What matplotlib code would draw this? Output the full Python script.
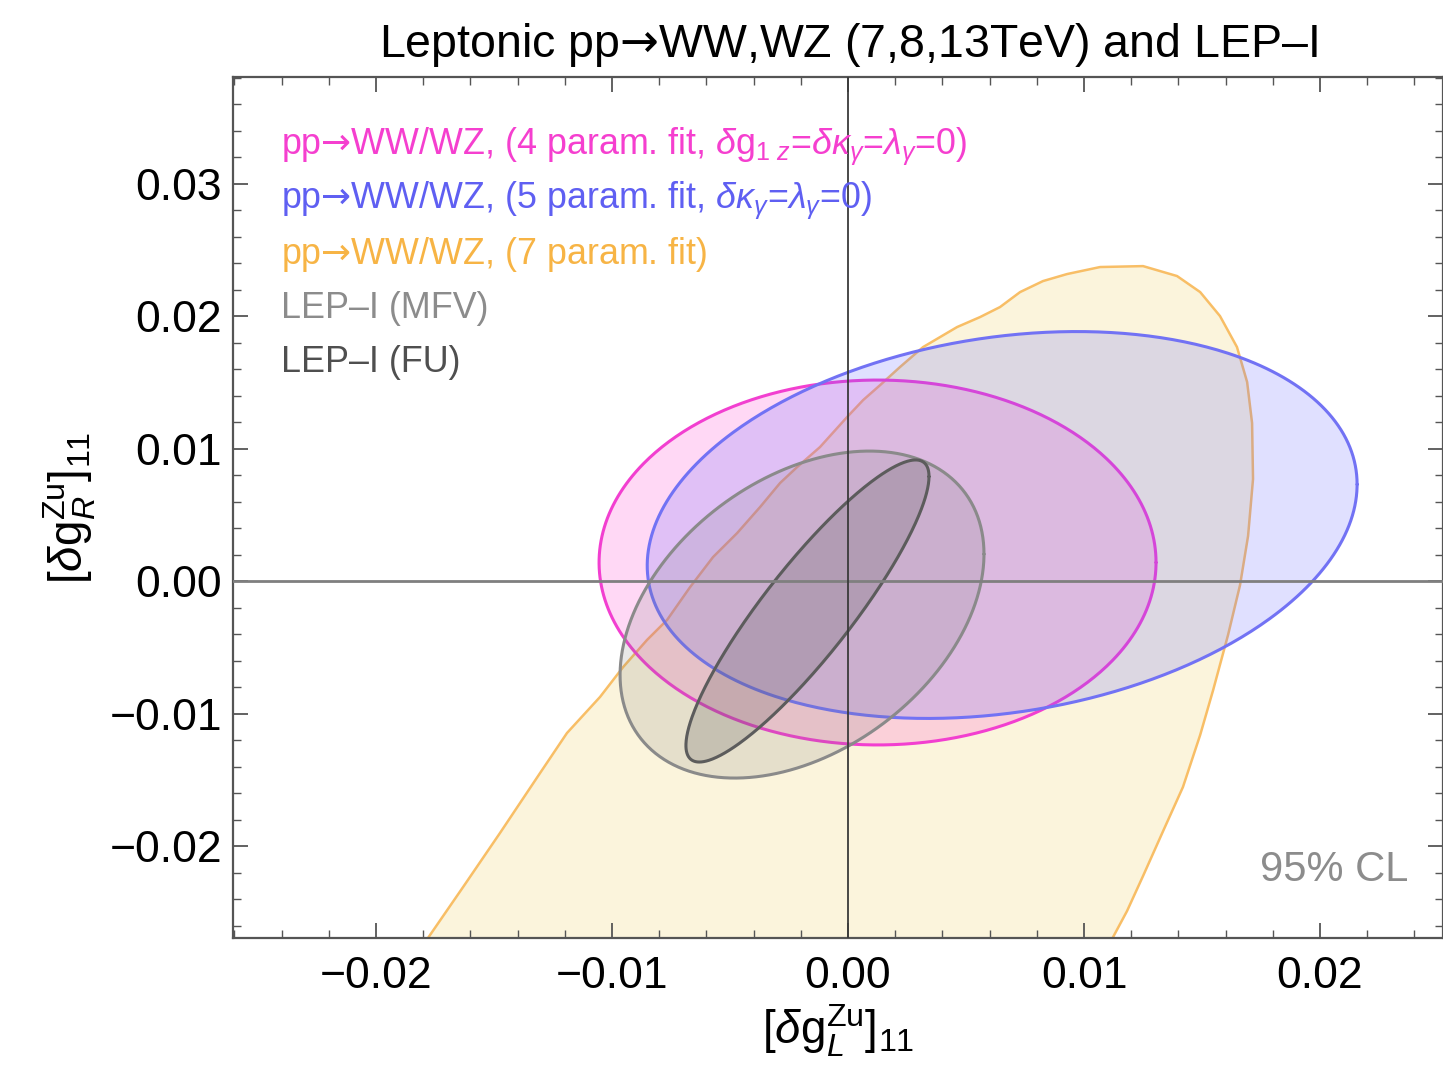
import numpy as np
import matplotlib
matplotlib.use("Agg")
import matplotlib.pyplot as plt
from matplotlib.ticker import MultipleLocator

plt.rcParams['font.family'] = ['Liberation Sans', 'DejaVu Sans']
plt.rcParams['mathtext.fontset'] = 'custom'
plt.rcParams['mathtext.rm'] = 'Liberation Sans'
plt.rcParams['mathtext.it'] = 'Liberation Sans:italic'
plt.rcParams['mathtext.bf'] = 'Liberation Sans:bold'
plt.rcParams['mathtext.sf'] = 'DejaVu Sans'

# 95% CL ellipses: centre, half-width (x), half-height (y), correlation
ellipse_names = ["4 param", "5 param", "LEP-I MFV", "LEP-I FU"]
ellipse_cx = [0.00125, 0.00653, -0.00195, -0.00172]
ellipse_cy = [0.00140, 0.00423, -0.00253, -0.00226]
ellipse_wx = [0.01180, 0.01504, 0.00771, 0.00515]
ellipse_wy = [0.01377, 0.01460, 0.01234, 0.01140]
ellipse_rho = [0.0, 0.21, 0.37, 0.89]

# 7 parameter fit contour (traced)
fit7_x = [-0.01903, -0.01780, -0.01631, -0.01475, -0.01305, -0.01191, -0.01051,
          -0.00953, -0.00852, -0.00767, -0.00669, -0.00572, -0.00470, -0.00373,
          -0.00288, -0.00216, -0.00119, -0.00004, 0.00064, 0.00136, 0.00220,
          0.00318, 0.00462, 0.00559, 0.00644, 0.00729, 0.00826, 0.00928,
          0.01068, 0.01250, 0.01394, 0.01492, 0.01576, 0.01648, 0.01691,
          0.01712, 0.01716, 0.01695, 0.01661, 0.01610, 0.01547, 0.01492,
          0.01419, 0.01335, 0.01250, 0.01182, 0.01123, 0.01025]
fit7_y = [-0.03011, -0.02694, -0.02309, -0.01902, -0.01449, -0.01147, -0.00875,
          -0.00649, -0.00445, -0.00294, -0.00045, 0.00181, 0.00362, 0.00558,
          0.00740, 0.00860, 0.01011, 0.01238, 0.01366, 0.01479, 0.01615,
          0.01766, 0.01917, 0.01992, 0.02068, 0.02181, 0.02264, 0.02317,
          0.02370, 0.02377, 0.02302, 0.02181, 0.02000, 0.01766, 0.01502,
          0.01192, 0.00770, 0.00340, -0.00030, -0.00408, -0.00823, -0.01162,
          -0.01555, -0.01887, -0.02226, -0.02491, -0.02687, -0.03011]

arrow = r"$\mathsf{→}$"
legend_labels = [
    "pp" + arrow + r"WW/WZ, (4 param. fit, $\delta$g$_{1\ z}$=$\delta\kappa_{\gamma}$=$\lambda_{\gamma}$=0)",
    "pp" + arrow + r"WW/WZ, (5 param. fit, $\delta\kappa_{\gamma}$=$\lambda_{\gamma}$=0)",
    "pp" + arrow + "WW/WZ, (7 param. fit)",
    "LEP–I (MFV)",
    "LEP–I (FU)",
]
legend_colors = ["#f53fcf", "#5f5ff2", "#f7b445", "#8c8c8c", "#4f4f4f"]
title = "Leptonic pp" + arrow + "WW,WZ (7,8,13TeV) and LEP–I"

fig = plt.figure(figsize=(14.43, 10.82), dpi=100)
ax = fig.add_axes([0.1615, 0.1331, 0.8385, 0.7957])

# orange 7-parameter region
ax.fill(fit7_x, fit7_y, facecolor="#eec850", alpha=0.2, edgecolor="none", zorder=1)
ax.plot(fit7_x, fit7_y, color="#f8be66", lw=1.8, zorder=1.1, solid_joinstyle="round")

face = ["#ff40d0", "#6464ff", "#7a7a7a", "#5a5a5a"]
edge = ["#f23fd0", "#7272f4", "#8a8a8a", "#5c5c5c"]
alph = [0.2, 0.2, 0.17, 0.22]
order = [1, 0, 2, 3]
t = np.linspace(0, 2 * np.pi, 500)
for i in order:
    ex = ellipse_cx[i] + ellipse_wx[i] * np.cos(t)
    ey = ellipse_cy[i] + ellipse_wy[i] * (ellipse_rho[i] * np.cos(t)
                                          + np.sqrt(1 - ellipse_rho[i] ** 2) * np.sin(t))
    ax.fill(ex, ey, facecolor=face[i], alpha=alph[i], edgecolor="none", zorder=2 + i)
    ax.plot(ex, ey, color=edge[i], lw=2.2, zorder=2.5 + i,
            solid_capstyle="round", solid_joinstyle="round")

ax.axhline(0, color="#7f7f7f", lw=2.0, zorder=10)
ax.axvline(0, color="#3a3a3a", lw=1.3, zorder=10)

ax.set_xlim(-0.02606, 0.02521)
ax.set_ylim(-0.02694, 0.03804)

ax.xaxis.set_major_locator(MultipleLocator(0.01))
ax.xaxis.set_minor_locator(MultipleLocator(0.002))
ax.yaxis.set_major_locator(MultipleLocator(0.01))
ax.yaxis.set_minor_locator(MultipleLocator(0.002))
ax.xaxis.set_major_formatter(lambda v, p: f"{v:.2f}".replace("-", "−"))
ax.yaxis.set_major_formatter(lambda v, p: f"{v:.2f}".replace("-", "−"))

ax.tick_params(which="both", direction="in", top=True, right=True, color="#555555")
ax.tick_params(which="major", length=11, width=1.3, labelsize=32, pad=8)
ax.tick_params(which="minor", length=6, width=1.0)
ax.tick_params(axis="x", which="major", pad=13)
for s in ax.spines.values():
    s.set_color("#555555")
    s.set_linewidth(1.6)

for k, (lab, col) in enumerate(zip(legend_labels, legend_colors)):
    ax.text(0.0397, 0.9185 - k * 0.0626, lab, color=col, fontsize=25.8,
            transform=ax.transAxes, va="center", ha="left", zorder=20)

ax.text(0.91, 0.079, "95% CL", color="#8c8c8c", fontsize=30,
        transform=ax.transAxes, ha="center", va="center", zorder=20)

fig.text(0.588, 0.958, title, fontsize=33.5, ha="center", va="center")
ax.set_xlabel(r"$[\delta \mathrm{g}_{L}^{\mathrm{Zu}}]_{11}$", fontsize=33, labelpad=4)
ax.set_ylabel(r"$[\delta \mathrm{g}_{R}^{\mathrm{Zu}}]_{11}$", fontsize=33, labelpad=8)

fig.savefig("out.png", dpi=100)
